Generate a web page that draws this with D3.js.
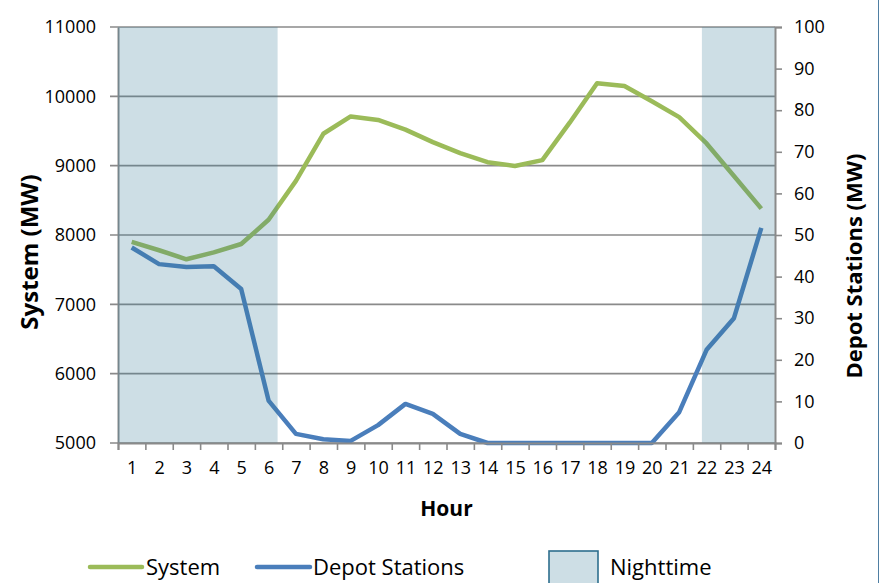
<!DOCTYPE html>
<html>
<head>
<meta charset="utf-8">
<script src="https://cdn.jsdelivr.net/npm/d3@7"></script>
<style>
  body { margin: 0; background: #fff; }
  text { font-family: "Open Sans", sans-serif; fill: #000; }
</style>
</head>
<body>
<svg id="chart" width="880" height="583"></svg>
<script>
const hours = [1, 2, 3, 4, 5, 6, 7, 8, 9, 10, 11, 12, 13, 14, 15, 16, 17, 18, 19, 20, 21, 22, 23, 24];
const systemMW = [7900, 7780, 7650, 7750, 7870, 8220, 8780, 9460, 9710, 9660, 9520, 9340,
  9180, 9050, 8995, 9080, 9620, 10190, 10150, 9930, 9700, 9320, 8850, 8380];
const depotMW = [47, 43, 42.3, 42.5, 37, 10.2, 2.2, 0.9, 0.5, 4.3, 9.4, 7,
  2.2, 0, 0, 0, 0, 0, 0, 0, 7.4, 22.4, 30, 51.7];
// nighttime spans in hours (sunset / sunrise)
const nightStart = [0.5, 21.83];
const nightEnd = [6.33, 24.5];
const leftTicks = [5000, 6000, 7000, 8000, 9000, 10000, 11000];
const rightTicks = [0, 10, 20, 30, 40, 50, 60, 70, 80, 90, 100];

const svg = d3.select("#chart"),
  margin = { top: 27, right: 105, bottom: 140, left: 118 },
  width = +svg.attr("width"),
  height = +svg.attr("height");
const chartWidth = width - margin.left - margin.right;
const chartHeight = height - margin.top - margin.bottom;

const green = "#9bbb59", blue = "#4a7ebb", grid = "#8a8a8a";

const g = svg.append("g").attr("transform", `translate(${margin.left},${margin.top})`);

const x = d3.scaleLinear().domain([0.5, 24.5]).range([0, chartWidth]);
const yL = d3.scaleLinear().domain([5000, 11000]).range([chartHeight, 0]);
const yR = d3.scaleLinear().domain([0, 100]).range([chartHeight, 0]);

// gridlines
g.append("g")
  .selectAll("line")
  .data(leftTicks)
  .join("line")
  .attr("x1", -8).attr("x2", chartWidth)
  .attr("y1", d => yL(d)).attr("y2", d => yL(d))
  .attr("stroke", grid).attr("stroke-width", 1.6);

// left axis
const axL = g.append("g")
  .call(d3.axisLeft(yL).tickValues(leftTicks).tickSize(0).tickPadding(22).tickFormat(d3.format("d")));
axL.select(".domain").attr("stroke", grid).attr("stroke-width", 2);
axL.selectAll("text").style("font-size", "18px");

// lines
const line = (ys, vals) => d3.line().x((d, i) => x(hours[i])).y((d, i) => ys(vals[i]));
g.append("path").datum(hours)
  .attr("d", line(yL, systemMW))
  .attr("fill", "none").attr("stroke", green).attr("stroke-width", 4.5).attr("stroke-linejoin", "round");
g.append("path").datum(hours)
  .attr("d", line(yR, depotMW))
  .attr("fill", "none").attr("stroke", blue).attr("stroke-width", 4.5).attr("stroke-linejoin", "round");

// nighttime shading (translucent, over the lines)
g.append("g")
  .selectAll("rect")
  .data(nightStart)
  .join("rect")
  .attr("x", d => x(d))
  .attr("width", (d, i) => x(nightEnd[i]) - x(d))
  .attr("y", 0).attr("height", chartHeight)
  .attr("fill", "rgb(55,123,151)").attr("opacity", 0.25);

// x axis
const axB = g.append("g").attr("transform", `translate(0,${chartHeight})`)
  .call(d3.axisBottom(x).tickValues(hours.map(h => h - 0.5).concat([24.5])).tickSize(7).tickFormat(""));
axB.select(".domain").attr("stroke", grid).attr("stroke-width", 2);
axB.selectAll(".tick line").attr("stroke", grid).attr("stroke-width", 1.6);
const axBL = g.append("g").attr("transform", `translate(0,${chartHeight})`)
  .call(d3.axisBottom(x).tickValues(hours).tickSize(0).tickPadding(18).tickFormat(d3.format("d")));
axBL.select(".domain").remove();
axBL.selectAll("text").style("font-size", "18px");

// right axis
const axR = g.append("g").attr("transform", `translate(${chartWidth},0)`)
  .call(d3.axisRight(yR).tickValues(rightTicks).tickSize(7).tickPadding(12));
axR.select(".domain").attr("stroke", grid).attr("stroke-width", 2);
axR.selectAll(".tick line").attr("stroke", grid).attr("stroke-width", 1.6);
axR.selectAll("text").style("font-size", "18px");

// axis titles
svg.append("text")
  .attr("transform", "translate(38,252) rotate(-90)")
  .attr("text-anchor", "middle")
  .style("font-size", "24px").style("font-weight", "bold")
  .text("System (MW)");
svg.append("text")
  .attr("transform", "translate(862,266) rotate(-90)")
  .attr("text-anchor", "middle")
  .style("font-size", "22px").style("font-weight", "bold")
  .text("Depot Stations (MW)");
svg.append("text")
  .attr("x", margin.left + chartWidth / 2).attr("y", 516)
  .attr("text-anchor", "middle")
  .style("font-size", "21px").style("font-weight", "bold")
  .text("Hour");

// legend
const legend = svg.append("g").attr("transform", "translate(0,567)");
legend.append("line").attr("x1", 90).attr("x2", 142).attr("y1", 0).attr("y2", 0)
  .attr("stroke", green).attr("stroke-width", 4.5).attr("stroke-linecap", "round");
legend.append("text").attr("x", 146).attr("y", 8).style("font-size", "22px").text("System");
legend.append("line").attr("x1", 257).attr("x2", 310).attr("y1", 0).attr("y2", 0)
  .attr("stroke", blue).attr("stroke-width", 4.5).attr("stroke-linecap", "round");
legend.append("text").attr("x", 313).attr("y", 8).style("font-size", "22px").text("Depot Stations");
legend.append("rect").attr("x", 549).attr("y", -16).attr("width", 49).attr("height", 34)
  .attr("fill", "rgb(205,222,229)").attr("stroke", "#2e6e8e").attr("stroke-width", 1.6);
legend.append("text").attr("x", 610).attr("y", 8).style("font-size", "22px").text("Nighttime");

// frame edge
svg.append("line").attr("x1", 878.5).attr("x2", 878.5).attr("y1", 0).attr("y2", height)
  .attr("stroke", "#4f7fa3").attr("stroke-width", 1);
</script>
</body>
</html>
